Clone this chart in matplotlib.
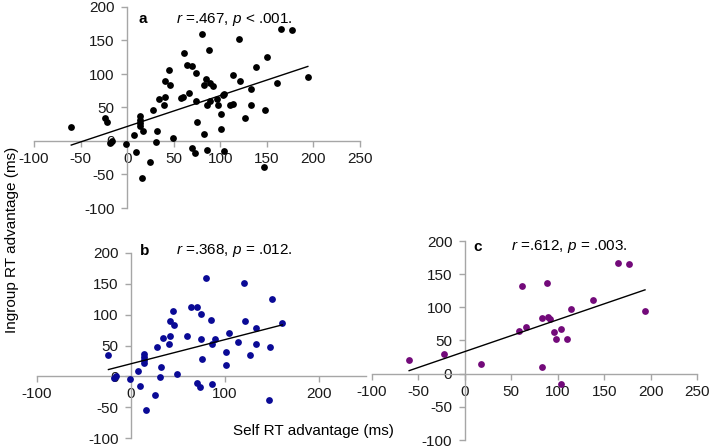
import numpy as np
import matplotlib
matplotlib.use("Agg")
import matplotlib.pyplot as plt

plt.rcParams["font.family"] = ["Liberation Sans", "DejaVu Sans"]
plt.rcParams["mathtext.fontset"] = "custom"
plt.rcParams["mathtext.rm"] = "Liberation Sans"
plt.rcParams["mathtext.it"] = "Liberation Sans:italic"
plt.rcParams["axes.unicode_minus"] = False

# group b (blue)
b_self = [-24, -18, -16, -1, 7, 10, 14, 14, 14, 14, 16, 25, 28, 31, 32, 34, 40, 41,
          41, 45, 46, 49, 60, 64, 70, 70, 73, 74, 74, 75, 80, 85, 86, 86, 89, 101,
          101, 104, 114, 120, 121, 127, 133, 133, 147, 148, 150, 161]
b_ingroup = [35, -3, 0, -5, 9, -16, 37, 32, 27, 22, -55, -31, 47, -1, 15, 62, 53, 66,
             89, 106, 84, 4, 66, 113, 112, -11, -18, 101, 60, 28, 160, 92, 53, -13, 60, 40,
             18, 70, 55, 152, 90, 34, 78, 53, -39, 47, 125, 86]

# group c (purple)
c_self = [-60, -22, 17, 58, 61, 66, 83, 83, 88, 89, 92, 96, 98, 103, 104, 110, 114,
          138, 165, 177, 194]
c_ingroup = [21, 29, 15, 64, 132, 71, 84, 10, 136, 86, 82, 63, 53, 68, -15, 53, 98,
             111, 167, 166, 95]

# panel a: all participants
a_self = b_self + c_self
a_ingroup = b_ingroup + c_ingroup

panels = [
    dict(x=a_self, y=a_ingroup, color="black", letter="a",
         stat=r"$r$ =.467, $p$ < .001.", xticks=np.arange(-100, 251, 50),
         pos=[34 / 709, 1 - 208 / 448, 326 / 709, 201 / 448],
         letter_xy=(17, 182), stat_x=52),
    dict(x=b_self, y=b_ingroup, color="#0a0a96", letter="b",
         stat=r"$r$ =.368, $p$ = .012.", xticks=np.arange(-100, 201, 100),
         pos=[37 / 709, 1 - 438 / 448, 329 / 709, 185 / 448],
         letter_xy=(14, 204), stat_x=48),
    dict(x=c_self, y=c_ingroup, color="#730a7a", letter="c",
         stat=r"$r$ =.612, $p$ = .003.", xticks=np.arange(-100, 251, 50),
         pos=[372 / 709, 1 - 440 / 448, 325 / 709, 199 / 448],
         letter_xy=(14, 191), stat_x=50),
]

fig = plt.figure(figsize=(7.09, 4.48), dpi=100)

for p in panels:
    ax = fig.add_axes(p["pos"])
    ax.set_xlim(-100, 250)
    ax.set_ylim(-100, 200)
    ax.patch.set_alpha(0)

    ax.scatter(p["x"], p["y"], s=24, color=p["color"], zorder=3, linewidths=0)
    slope, intercept = np.polyfit(p["x"], p["y"], 1)
    xs = np.array([min(p["x"]), max(p["x"])])
    ax.plot(xs, slope * xs + intercept, color="black", lw=1, zorder=4)

    for side in ["top", "right"]:
        ax.spines[side].set_visible(False)
    for side in ["left", "bottom"]:
        ax.spines[side].set_position(("data", 0))
        ax.spines[side].set_color("#a6a6a6")
        ax.spines[side].set_linewidth(1)
    ax.set_xticks(p["xticks"])
    ax.set_yticks(np.arange(-100, 201, 50))
    ax.tick_params(axis="both", direction="out", length=4, width=1,
                   color="#a6a6a6", labelsize=11, labelcolor="#1a1a1a")
    ax.tick_params(axis="x", pad=4)
    ax.tick_params(axis="y", pad=5)

    ax.text(p["letter_xy"][0], p["letter_xy"][1], p["letter"], fontsize=11,
            fontweight="bold", va="center", ha="center")
    ax.text(p["stat_x"], p["letter_xy"][1], p["stat"], fontsize=11,
            va="center", ha="left")

fig.text(12 / 709, 1 - 240 / 448, "Ingroup RT advantage (ms)", rotation=90,
         fontsize=11, ha="center", va="center")
fig.text(313 / 709, 1 - 431 / 448, "Self RT advantage (ms)",
         fontsize=11, ha="center", va="center")

fig.savefig("out.png", dpi=100)
